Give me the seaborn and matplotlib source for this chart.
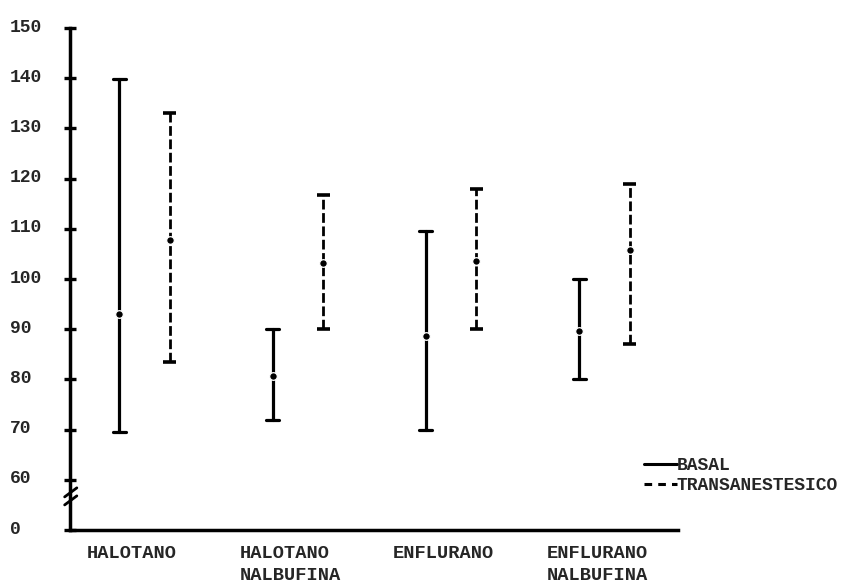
import matplotlib
matplotlib.use("Agg")

import pandas as pd
import seaborn as sns
from matplotlib import pyplot as plt
from matplotlib import transforms
from matplotlib.lines import Line2D

groups = ["HALOTANO", "HALOTANO\nNALBUFINA", "ENFLURANO", "ENFLURANO\nNALBUFINA"]
settings = ["BASAL", "TRANSANESTESICO"]

# rango (min, max) y media de cada grupo
basal_low = [69.5, 72.0, 70.0, 80.0]
basal_mean = [93.0, 80.7, 88.6, 89.7]
basal_high = [139.8, 90.0, 109.5, 100.0]

trans_low = [83.5, 90.0, 90.0, 87.0]
trans_mean = [107.8, 103.1, 103.6, 105.7]
trans_high = [133.0, 116.7, 118.0, 119.0]

# eje cortado: el tick inferior representa el 0
y_ticks = [50, 60, 70, 80, 90, 100, 110, 120, 130, 140, 150]
y_tick_labels = ["0", "60", "70", "80", "90", "100", "110", "120", "130", "140", "150"]

rows = []
for setting, lows, means, highs in [(settings[0], basal_low, basal_mean, basal_high),
                                    (settings[1], trans_low, trans_mean, trans_high)]:
    for g, lo, m, hi in zip(groups, lows, means, highs):
        for v in (lo, m, hi):
            rows.append({"Grupo": g, "Setting": setting, "value": v})
data = pd.DataFrame(rows)

sns.set_style("white")
plt.rcParams["font.family"] = ["Liberation Mono", "DejaVu Sans Mono"]
plt.rcParams["font.weight"] = "bold"

fig = plt.figure(figsize=(8.51, 5.85), dpi=100)
ax = fig.add_axes([0.0817, 0.094, 0.715, 0.858])

common = dict(x="Grupo", y="value", hue="Setting", order=groups, hue_order=settings,
              palette={s: "black" for s in settings}, estimator="median", errorbar=("pi", 100),
              dodge=0.33, linestyle="none", markers="o", markersize=5.5,
              markeredgecolor="white", markeredgewidth=0.9,
              capsize=0.085, legend=False, ax=ax)

sns.pointplot(data=data[data["Setting"] == settings[0]], err_kws={"linewidth": 2.3}, **common)

n_before = len(ax.lines)
sns.pointplot(data=data[data["Setting"] == settings[1]],
              err_kws={"linewidth": 2.0, "linestyle": (0, (3.5, 1.3))}, **common)

# caps solidos en la serie discontinua
for line in list(ax.lines[n_before:]):
    xs, ys = line.get_data()
    if len(xs) == 8:
        for seg in (slice(0, 2), slice(6, 8)):
            ax.plot(xs[seg], ys[seg], color="black", linewidth=2.6, solid_capstyle="butt")
        line.set_data(xs[3:5], ys[3:5])

for line in ax.lines:
    if line.get_marker() == "o":
        line.set_zorder(5)

ax.set_xlim(-0.49, 3.48)
ax.set_ylim(50, 150)
ax.set_yticks(y_ticks)
ax.set_yticklabels(y_tick_labels, fontsize=13)
ax.set_xlabel("")
ax.set_ylabel("")

ax.tick_params(axis="y", direction="inout", length=8, width=2.4, pad=38.8, left=True, color="black")
ylift = transforms.ScaledTranslation(0, 3 / 100, fig.dpi_scale_trans)
for label in ax.get_yticklabels():
    label.set_ha("left")
    label.set_transform(label.get_transform() + ylift)

ax.tick_params(axis="x", length=0, pad=11, labelsize=13.5)
shift = transforms.ScaledTranslation(-58 / 100, 0, fig.dpi_scale_trans)
for label in ax.get_xticklabels():
    label.set_ha("left")
    label.set_multialignment("left")
    label.set_linespacing(1.35)
    label.set_transform(label.get_transform() + shift)

sns.despine(ax=ax)
for side in ["left", "bottom"]:
    ax.spines[side].set_linewidth(2.5)
    ax.spines[side].set_color("black")

# marca de corte del eje
blend = transforms.blended_transform_factory(ax.transAxes, ax.transData)
for y0 in (55.0, 56.6):
    ax.plot([-0.008, 0.012], [y0, y0 + 1.8], color="black", linewidth=2.0,
            transform=blend, clip_on=False)

handles = [Line2D([0], [0], color="black", linewidth=2.2),
           Line2D([0], [0], color="black", linewidth=2.2, linestyle=(0, (2.5, 2.0)))]
fig.legend(handles, settings, loc="upper left", bbox_to_anchor=(0.757, 0.218),
           frameon=False, fontsize=13, handlelength=1.8, handletextpad=0.0,
           borderpad=0, borderaxespad=0, labelspacing=0.15)

fig.savefig("out.png", dpi=100)
